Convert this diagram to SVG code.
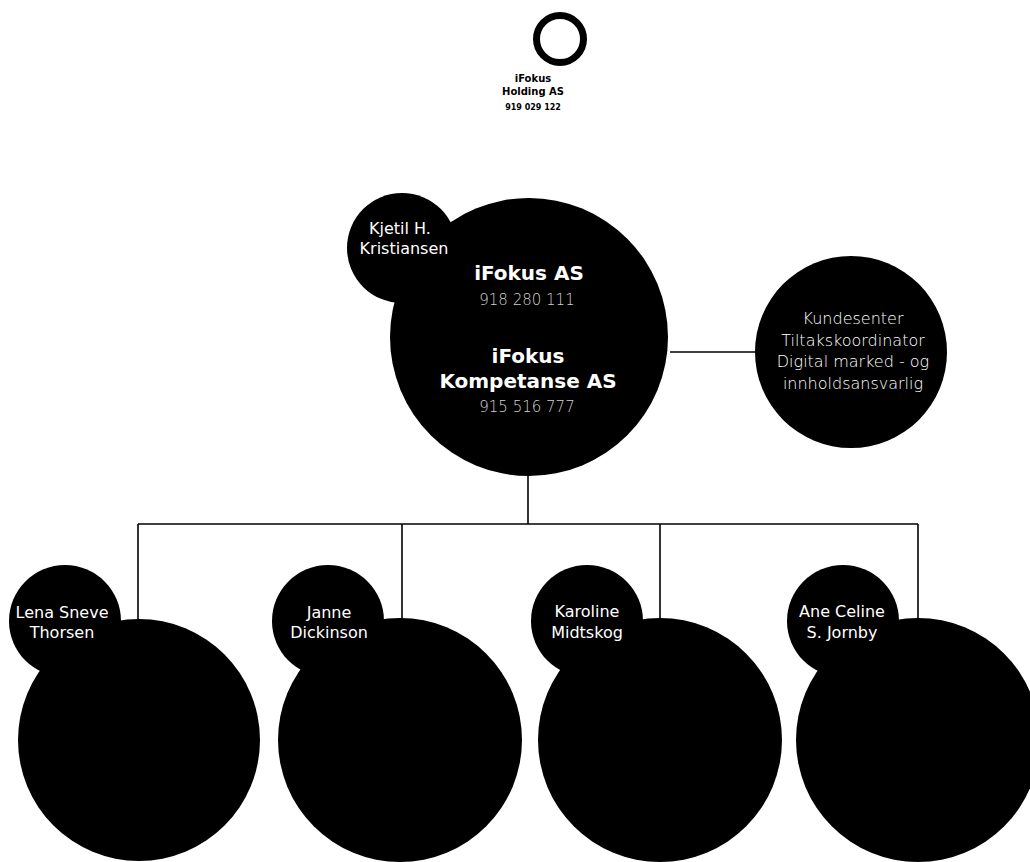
<svg xmlns="http://www.w3.org/2000/svg" width="1030" height="862" viewBox="0 0 1030 862">
<style>
.c{fill:#000}
.ln{stroke:#000;stroke-width:1.6;fill:none}
.nm{font-family:"DejaVu Sans","Liberation Sans",sans-serif;font-size:16px;fill:#fff;text-anchor:middle}
.co{font-family:"DejaVu Sans","Liberation Sans",sans-serif;font-size:20px;font-weight:700;fill:#fff;text-anchor:middle}
.nr{font-family:"DejaVu Sans","Liberation Sans",sans-serif;font-size:15px;font-weight:200;fill:#d0d0d0;text-anchor:middle}
.rl{font-family:"DejaVu Sans","Liberation Sans",sans-serif;font-size:16px;font-weight:200;fill:#fff;text-anchor:middle}
.tp{font-family:"DejaVu Sans","Liberation Sans",sans-serif;font-weight:700;fill:#000;text-anchor:middle}
</style>
<rect width="1030" height="862" fill="#fff"/>
<g id="connectors">
<line class="ln" x1="670" y1="352" x2="756" y2="352"/>
<line class="ln" x1="528" y1="470" x2="528" y2="524"/>
<line class="ln" x1="138" y1="524" x2="918" y2="524"/>
<line class="ln" x1="138" y1="524" x2="138" y2="622"/>
<line class="ln" x1="402" y1="524" x2="402" y2="622"/>
<line class="ln" x1="660" y1="524" x2="660" y2="622"/>
<line class="ln" x1="918" y1="524" x2="918" y2="622"/>
</g>
<g id="holding">
<circle cx="560" cy="39" r="23.5" fill="none" stroke="#000" stroke-width="7"/>
<text class="tp" x="533" y="82" font-size="10">iFokus</text>
<text class="tp" x="533" y="95" font-size="10">Holding AS</text>
<text class="tp" x="533" y="110" font-size="8">919 029 122</text>
</g>
<g id="ifokus">
<circle class="c" cx="529" cy="337" r="139"/>
<circle class="c" cx="402" cy="248" r="55"/>
<text class="nm" x="400" y="234">Kjetil H.</text>
<text class="nm" x="404" y="254">Kristiansen</text>
<text class="co" x="529" y="280">iFokus AS</text>
<text class="nr" x="527" y="305">918 280 111</text>
<text class="co" x="528" y="363">iFokus</text>
<text class="co" x="528" y="388">Kompetanse AS</text>
<text class="nr" x="527" y="412">915 516 777</text>
</g>
<g id="kundesenter">
<circle class="c" cx="851" cy="352" r="96"/>
<text class="rl" x="853" y="324">Kundesenter</text>
<text class="rl" x="853" y="346">Tiltakskoordinator</text>
<text class="rl" x="853" y="367">Digital marked - og</text>
<text class="rl" x="853" y="389">innholdsansvarlig</text>
</g>
<g id="lena">
<circle class="c" cx="139" cy="740" r="121"/>
<circle class="c" cx="65" cy="621" r="56"/>
<text class="nm" x="62" y="618">Lena Sneve</text>
<text class="nm" x="62" y="638">Thorsen</text>
</g>
<g id="janne">
<circle class="c" cx="400" cy="740" r="122"/>
<circle class="c" cx="328" cy="621" r="56"/>
<text class="nm" x="329" y="618">Janne</text>
<text class="nm" x="329" y="638">Dickinson</text>
</g>
<g id="karoline">
<circle class="c" cx="660" cy="740" r="122"/>
<circle class="c" cx="587" cy="621" r="56"/>
<text class="nm" x="587" y="617">Karoline</text>
<text class="nm" x="587" y="638">Midtskog</text>
</g>
<g id="ane">
<circle class="c" cx="918" cy="740" r="122"/>
<circle class="c" cx="843" cy="621" r="56"/>
<text class="nm" x="842" y="617">Ane Celine</text>
<text class="nm" x="842" y="638">S. Jornby</text>
</g>
</svg>
